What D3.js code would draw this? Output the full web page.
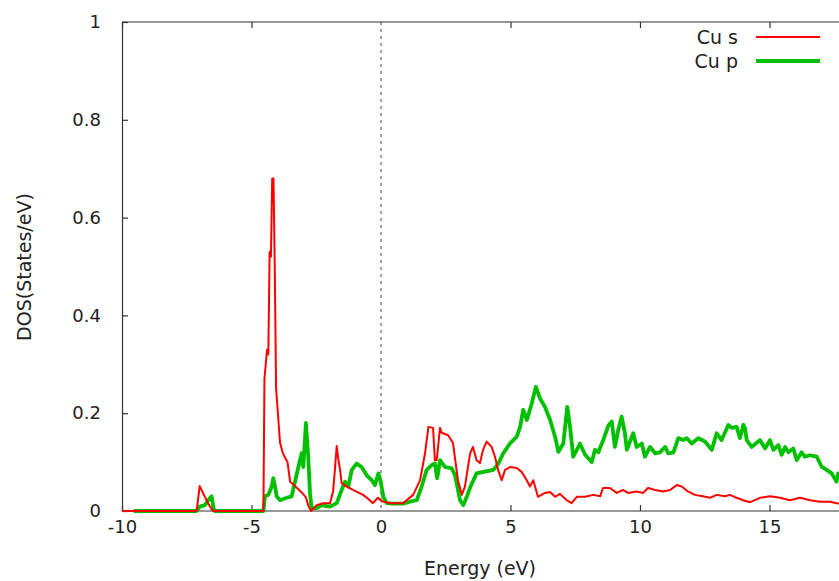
<!DOCTYPE html>
<html>
<head>
<meta charset="utf-8">
<script src="https://cdn.jsdelivr.net/npm/d3@7"></script>
<style>
  html, body { margin: 0; padding: 0; background: #fff; }
  svg { display: block; }
  text { font-family: "DejaVu Sans", sans-serif; fill: #222; }
</style>
</head>
<body>
<svg id="chart" width="839" height="581"></svg>
<script>
// ---- Data ----
const sEnergy = [-10, -7.12, -7.00, -6.80, -6.68, -6.49, -4.54, -4.50, -4.45, -4.40, -4.35, -4.30, -4.25, -4.20, -4.15, -4.10, -4.05, -3.98, -3.90, -3.80, -3.71, -3.61, -3.51, -3.40, -3.20, -3.01, -2.90, -2.80, -2.70, -2.48, -2.24, -1.97, -1.85, -1.78, -1.71, -1.66, -1.58, -1.52, -1.32, -1.08, -0.89, -0.69, -0.50, -0.31, -0.12, 0.03, 0.35, 0.85, 1.24, 1.51, 1.70, 1.83, 2.01, 2.08, 2.15, 2.28, 2.34, 2.59, 2.78, 2.97, 3.12, 3.24, 3.44, 3.55, 3.69, 3.82, 3.94, 4.08, 4.27, 4.40, 4.52, 4.66, 4.79, 4.98, 5.24, 5.43, 5.63, 5.75, 5.88, 6.06, 6.33, 6.53, 6.72, 6.91, 7.17, 7.36, 7.56, 7.88, 8.20, 8.46, 8.57, 8.84, 9.10, 9.34, 9.54, 9.87, 10.12, 10.31, 10.58, 10.89, 11.16, 11.42, 11.61, 11.85, 12.12, 12.43, 12.70, 12.96, 13.28, 13.47, 13.73, 13.98, 14.25, 14.63, 15.02, 15.41, 15.79, 16.18, 16.56, 16.95, 17.34, 17.59, 17.80];
const sDos = [0, 0, 0.051, 0.029, 0.016, 0, 0, 0.27, 0.30, 0.33, 0.32, 0.53, 0.52, 0.68, 0.68, 0.49, 0.25, 0.20, 0.14, 0.12, 0.11, 0.10, 0.06, 0.055, 0.045, 0.035, 0.028, 0.01, 0, 0.012, 0.016, 0.016, 0.04, 0.084, 0.133, 0.11, 0.084, 0.057, 0.05, 0.043, 0.038, 0.033, 0.025, 0.016, 0.027, 0.02, 0.016, 0.016, 0.033, 0.063, 0.118, 0.172, 0.17, 0.104, 0.104, 0.17, 0.16, 0.155, 0.139, 0.063, 0.033, 0.05, 0.118, 0.131, 0.104, 0.098, 0.125, 0.142, 0.131, 0.111, 0.084, 0.063, 0.084, 0.09, 0.088, 0.08, 0.063, 0.05, 0.063, 0.029, 0.037, 0.039, 0.029, 0.035, 0.022, 0.016, 0.029, 0.029, 0.033, 0.03, 0.047, 0.047, 0.037, 0.043, 0.037, 0.04, 0.037, 0.047, 0.043, 0.04, 0.043, 0.053, 0.05, 0.04, 0.033, 0.03, 0.027, 0.033, 0.03, 0.033, 0.027, 0.022, 0.018, 0.027, 0.03, 0.027, 0.022, 0.027, 0.022, 0.019, 0.019, 0.016, 0.015];

const pEnergy = [-9.55, -7.12, -7.00, -6.80, -6.60, -6.54, -6.47, -6.41, -4.54, -4.48, -4.35, -4.22, -4.16, -4.09, -4.03, -3.90, -3.64, -3.45, -3.32, -3.19, -3.06, -3.00, -2.90, -2.81, -2.74, -2.68, -2.48, -2.29, -2.10, -1.97, -1.71, -1.52, -1.39, -1.26, -1.13, -0.94, -0.75, -0.55, -0.36, -0.23, -0.10, -0.01, 0.09, 0.22, 0.47, 0.86, 1.12, 1.38, 1.57, 1.76, 1.96, 2.08, 2.17, 2.28, 2.47, 2.73, 2.86, 3.05, 3.18, 3.31, 3.44, 3.69, 3.95, 4.34, 4.53, 4.72, 4.98, 5.24, 5.37, 5.49, 5.63, 5.82, 5.98, 6.14, 6.33, 6.53, 6.72, 6.85, 7.04, 7.19, 7.30, 7.42, 7.56, 7.68, 7.88, 8.14, 8.26, 8.39, 8.58, 8.78, 8.91, 9.03, 9.16, 9.29, 9.42, 9.49, 9.74, 9.87, 10.07, 10.19, 10.39, 10.58, 10.77, 10.97, 11.09, 11.29, 11.48, 11.67, 11.80, 12.00, 12.25, 12.51, 12.77, 12.96, 13.15, 13.41, 13.54, 13.73, 13.86, 13.99, 14.05, 14.12, 14.31, 14.63, 14.83, 15.02, 15.15, 15.34, 15.47, 15.60, 15.73, 15.92, 16.05, 16.24, 16.37, 16.56, 16.82, 17.02, 17.21, 17.40, 17.59, 17.65, 17.80];
const pDos = [0, 0, 0.009, 0.012, 0.027, 0.03, 0.006, 0, 0, 0.03, 0.033, 0.05, 0.067, 0.05, 0.03, 0.022, 0.027, 0.03, 0.06, 0.09, 0.118, 0.09, 0.18, 0.111, 0.036, 0.006, 0.006, 0.012, 0.01, 0.009, 0.016, 0.043, 0.06, 0.05, 0.084, 0.097, 0.09, 0.073, 0.063, 0.053, 0.077, 0.06, 0.029, 0.016, 0.015, 0.015, 0.019, 0.022, 0.05, 0.084, 0.094, 0.097, 0.067, 0.104, 0.09, 0.087, 0.073, 0.022, 0.012, 0.029, 0.048, 0.077, 0.08, 0.084, 0.097, 0.118, 0.138, 0.152, 0.172, 0.207, 0.186, 0.22, 0.254, 0.23, 0.213, 0.186, 0.152, 0.121, 0.138, 0.213, 0.172, 0.111, 0.125, 0.138, 0.115, 0.10, 0.125, 0.12, 0.145, 0.175, 0.183, 0.131, 0.166, 0.193, 0.159, 0.125, 0.159, 0.131, 0.138, 0.111, 0.131, 0.118, 0.12, 0.131, 0.118, 0.12, 0.149, 0.145, 0.149, 0.138, 0.149, 0.142, 0.125, 0.159, 0.145, 0.176, 0.17, 0.172, 0.149, 0.176, 0.17, 0.145, 0.131, 0.145, 0.128, 0.145, 0.125, 0.135, 0.115, 0.131, 0.12, 0.128, 0.104, 0.12, 0.111, 0.114, 0.111, 0.09, 0.084, 0.077, 0.06, 0.077, 0.07];

const seriesNames = ["Cu s", "Cu p"];
const seriesColors = ["#ff0000", "#00c000"];
const xTicks = [-10, -5, 0, 5, 10, 15];
const yTicks = [0, 0.2, 0.4, 0.6, 0.8, 1];
const xTickLabels = ["-10", "-5", "0", "5", "10", "15"];
const yTickLabels = ["0", "0.2", "0.4", "0.6", "0.8", "1"];
const xTitle = "Energy (eV)";
const yTitle = "DOS(States/eV)";

// ---- Layout ----
const svg = d3.select("#chart");
const mLeft = 122, mTop = 22, mBottom = 511, mRight = 899;
const x = d3.scaleLinear().domain([-10, 20]).range([mLeft, mRight]);
const y = d3.scaleLinear().domain([0, 1]).range([mBottom, mTop]);

svg.append("defs").append("clipPath").attr("id", "plotclip")
  .append("rect").attr("x", mLeft).attr("y", mTop - 2).attr("width", mRight - mLeft).attr("height", mBottom - mTop + 4);

// Fermi level dashed line
svg.append("line")
  .attr("x1", x(0)).attr("x2", x(0)).attr("y1", y(1)).attr("y2", y(0))
  .attr("stroke", "#a0a0a0").attr("stroke-width", 2).attr("stroke-dasharray", "3,4");

// Axes (gnuplot style, inward ticks, mirrored)
const xFmt = d => xTickLabels[xTicks.indexOf(d)];
const yFmt = d => yTickLabels[yTicks.indexOf(d)];
const axB = svg.append("g").attr("transform", `translate(0,${mBottom})`)
  .call(d3.axisBottom(x).tickValues(xTicks).tickSizeInner(-6).tickSizeOuter(0).tickPadding(22).tickFormat(xFmt));
const axT = svg.append("g").attr("transform", `translate(0,${mTop})`)
  .call(d3.axisTop(x).tickValues(xTicks).tickSizeInner(-6).tickSizeOuter(0).tickFormat(""));
const axL = svg.append("g").attr("transform", `translate(${mLeft},0)`)
  .call(d3.axisLeft(y).tickValues(yTicks).tickSizeInner(-6).tickSizeOuter(0).tickPadding(21).tickFormat(yFmt));
[axB, axT, axL].forEach(g => {
  g.select(".domain").attr("stroke", "#333").attr("stroke-width", 1.2);
  g.selectAll(".tick line").attr("stroke", "#333").attr("stroke-width", 1.2);
  g.selectAll(".tick text").attr("font-family", "DejaVu Sans").attr("font-size", 18).attr("fill", "#222");
});
axB.selectAll(".tick text").attr("dy", "0");
axB.selectAll(".tick").filter(d => d === 0).select("line").remove();
axT.selectAll(".tick").filter(d => d === 0).select("line").remove();
// extend top border to the image edge (plot frame continues beyond crop)
axT.select(".domain").attr("d", `M${mLeft},0H${mRight}`);
axB.select(".domain").attr("d", `M${mLeft},0H${mRight}`);

// Series
const plot = svg.append("g").attr("clip-path", "url(#plotclip)");
const line = d3.line().x(d => x(d[0])).y(d => y(d[1]));
const pData = d3.zip(pEnergy, pDos);
const sData = d3.zip(sEnergy, sDos);
plot.append("path").datum(pData).attr("d", line)
  .attr("fill", "none").attr("stroke", seriesColors[1]).attr("stroke-width", 3.8).attr("stroke-linejoin", "round");
plot.append("path").datum(sData).attr("d", line)
  .attr("fill", "none").attr("stroke", seriesColors[0]).attr("stroke-width", 2).attr("stroke-linejoin", "round");

// Axis titles
svg.append("text").attr("x", 480).attr("y", 575).attr("text-anchor", "middle")
  .attr("font-size", 19).text(xTitle);
svg.append("text").attr("transform", "translate(31,267) rotate(-90)").attr("text-anchor", "middle")
  .attr("font-size", 19).text(yTitle);

// Legend
const legY = [37, 61];
const legW = [2, 3.8];
seriesNames.forEach((name, i) => {
  svg.append("text").attr("x", 738).attr("y", legY[i]).attr("dy", "0.35em")
    .attr("text-anchor", "end").attr("font-size", 19).text(name);
  svg.append("line").attr("x1", 756).attr("x2", 820).attr("y1", legY[i]).attr("y2", legY[i])
    .attr("stroke", seriesColors[i]).attr("stroke-width", legW[i]);
});
</script>
</body>
</html>
